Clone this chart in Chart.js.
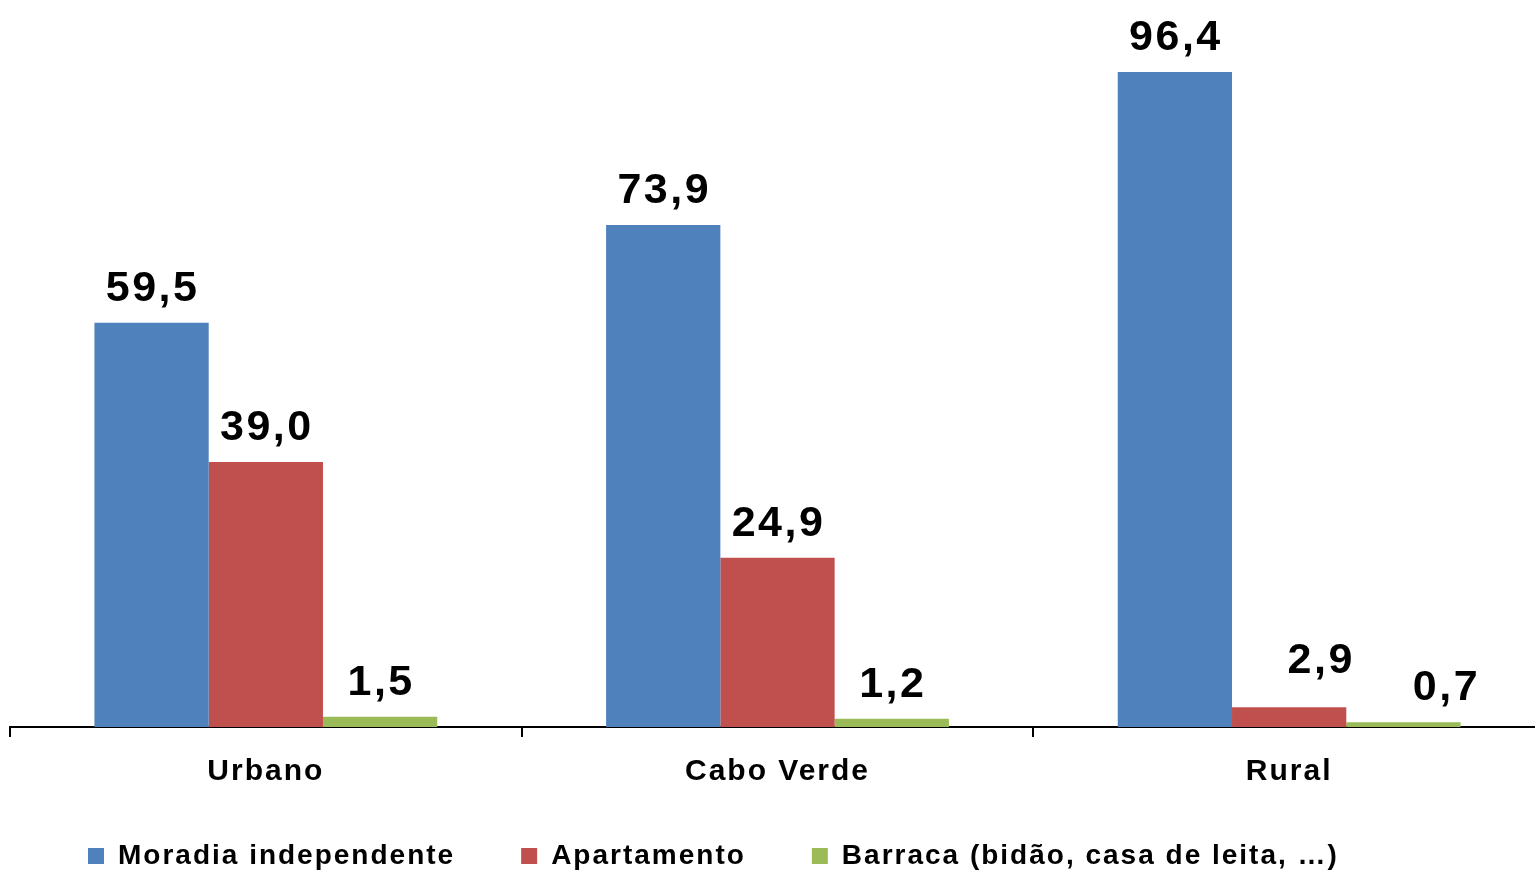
<!DOCTYPE html>
<html>
<head>
<meta charset="utf-8">
<script src="https://cdn.jsdelivr.net/npm/chart.js@4.4.1/dist/chart.umd.min.js"></script>
<style>
  html, body { margin: 0; padding: 0; background: #ffffff; overflow: hidden; }
  #wrap { width: 1535px; height: 873px; position: relative; overflow: hidden; }
  canvas { display: block; }
</style>
</head>
<body>
<div id="wrap"><canvas id="c" width="1545" height="873"></canvas></div>
<script>
const categories = ['Urbano', 'Cabo Verde', 'Rural'];
const seriesNames = ['Moradia independente', 'Apartamento', 'Barraca (bidão, casa de leita, …)'];
const moradia = [59.5, 73.9, 96.4];
const apartamento = [39.0, 24.9, 2.9];
const barraca = [1.5, 1.2, 0.7];
const colors = ['#4F81BD', '#C0504D', '#9BBB59'];
// manual nudges of a few value labels (as placed in the original chart), [dx, dy] per dataset/category
const labelNudges = { '1-2': [31, -12], '2-2': [42, 0] };

const FONT = "'Liberation Sans', Arial, sans-serif";
const SPACING = '2px';

const spacingPlugin = {
  id: 'spacing',
  beforeUpdate(chart) { chart.ctx.letterSpacing = SPACING; },
  beforeLayout(chart) { chart.ctx.letterSpacing = SPACING; },
  beforeDraw(chart) { chart.ctx.letterSpacing = SPACING; }
};

const legendBoxPlugin = {
  id: 'legendBox',
  beforeLayout(chart) {
    const lg = chart.legend;
    if (lg && !lg._wrappedFit) {
      const orig = lg.fit.bind(lg);
      lg.fit = function () { orig(); this.height = 84; };
      lg._wrappedFit = true;
    }
  },
  afterLayout(chart) {
    const lg = chart.legend;
    if (lg) { lg.left += 12; lg.right += 12; lg.top -= 13; lg.height += 13; }
  }
};

const valueLabels = {
  id: 'valueLabels',
  afterDatasetsDraw(chart) {
    const ctx = chart.ctx;
    ctx.save();
    ctx.letterSpacing = '2.5px';
    ctx.font = "bold 43px " + FONT;
    ctx.fillStyle = '#000';
    ctx.textAlign = 'center';
    ctx.textBaseline = 'alphabetic';
    chart.data.datasets.forEach((ds, di) => {
      const meta = chart.getDatasetMeta(di);
      meta.data.forEach((bar, i) => {
        const txt = ds.data[i].toFixed(1).replace('.', ',');
        const n = labelNudges[di + '-' + i] || [0, 0];
        ctx.fillText(txt, bar.x + 1 + n[0], bar.y - 22 + n[1]);
      });
    });
    ctx.restore();
  }
};

new Chart(document.getElementById('c'), {
  type: 'bar',
  data: {
    labels: categories,
    datasets: [
      { label: seriesNames[0], data: moradia, backgroundColor: colors[0] },
      { label: seriesNames[1], data: apartamento, backgroundColor: colors[1] },
      { label: seriesNames[2], data: barraca, backgroundColor: colors[2] }
    ]
  },
  options: {
    responsive: false,
    animation: false,
    devicePixelRatio: 1,
    layout: { padding: { left: 10, right: 0, top: 0, bottom: 0 } },
    datasets: { bar: { categoryPercentage: 0.67, barPercentage: 1.0, borderWidth: 0 } },
    scales: {
      x: {
        grid: { offset: true, drawOnChartArea: false, drawTicks: true, tickLength: 10, color: '#000', lineWidth: 2 },
        border: { display: true, color: '#000', width: 2 },
        ticks: { color: '#000', font: { family: FONT, size: 30, weight: 'bold' }, padding: 17 },
        afterFit(scale) { scale.height = 62; }
      },
      y: {
        display: false,
        min: 0,
        max: 107
      }
    },
    plugins: {
      legend: {
        position: 'bottom',
        align: 'start',
        labels: {
          color: '#000',
          font: { family: FONT, size: 28, weight: 'bold' },
          boxWidth: 16,
          boxHeight: 16,
          padding: 66
        }
      },
      tooltip: { enabled: false }
    }
  },
  plugins: [spacingPlugin, legendBoxPlugin, valueLabels]
});
</script>
</body>
</html>
